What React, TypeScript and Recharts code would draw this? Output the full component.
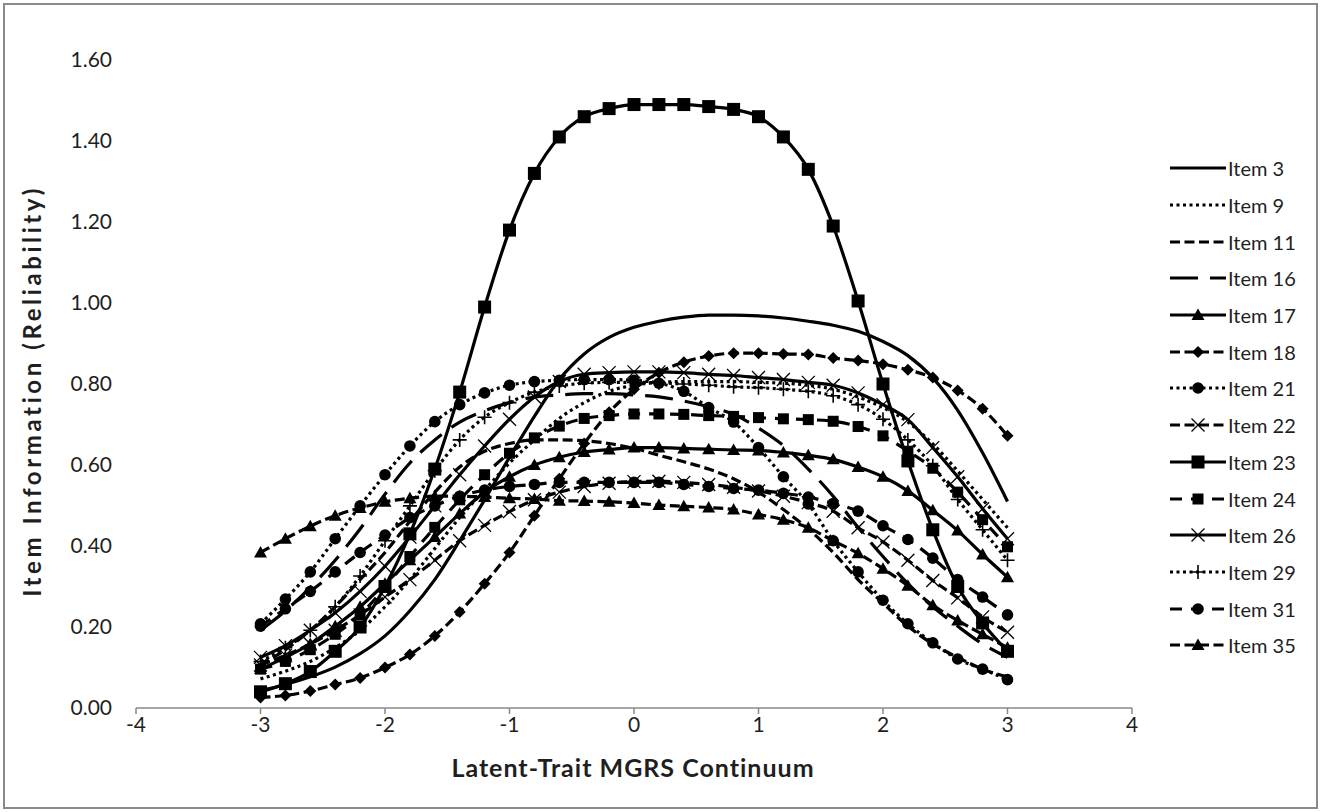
import React from 'react';
import { LineChart, Line, XAxis, YAxis, Legend, Label } from 'recharts';

const THETA = [-3, -2.8, -2.6, -2.4, -2.2, -2, -1.8, -1.6, -1.4, -1.2, -1, -0.8, -0.6, -0.4, -0.2, 0, 0.2, 0.4, 0.6, 0.8, 1, 1.2, 1.4, 1.6, 1.8, 2, 2.2, 2.4, 2.6, 2.8, 3];

const ITEM_3 = [0.043, 0.058, 0.077, 0.101, 0.134, 0.178, 0.24, 0.317, 0.413, 0.514, 0.619, 0.72, 0.811, 0.874, 0.915, 0.94, 0.955, 0.965, 0.97, 0.97, 0.968, 0.963, 0.955, 0.945, 0.93, 0.905, 0.87, 0.815, 0.735, 0.63, 0.51];
const ITEM_9 = [0.072, 0.091, 0.115, 0.149, 0.192, 0.25, 0.317, 0.394, 0.47, 0.538, 0.605, 0.662, 0.715, 0.754, 0.782, 0.797, 0.804, 0.806, 0.806, 0.806, 0.804, 0.802, 0.797, 0.787, 0.768, 0.742, 0.706, 0.652, 0.585, 0.515, 0.445];
const ITEM_11 = [0.106, 0.144, 0.192, 0.25, 0.317, 0.384, 0.461, 0.533, 0.595, 0.634, 0.653, 0.662, 0.662, 0.66, 0.653, 0.641, 0.624, 0.608, 0.59, 0.566, 0.533, 0.49, 0.442, 0.384, 0.317, 0.259, 0.202, 0.158, 0.125, 0.096, 0.077];
const ITEM_16 = [0.192, 0.24, 0.298, 0.365, 0.442, 0.528, 0.605, 0.662, 0.706, 0.734, 0.754, 0.768, 0.773, 0.776, 0.776, 0.773, 0.768, 0.758, 0.744, 0.725, 0.691, 0.648, 0.59, 0.523, 0.446, 0.374, 0.307, 0.25, 0.202, 0.158, 0.125];
const ITEM_17 = [0.096, 0.125, 0.158, 0.202, 0.25, 0.307, 0.365, 0.422, 0.48, 0.533, 0.571, 0.6, 0.619, 0.632, 0.638, 0.643, 0.643, 0.641, 0.639, 0.637, 0.636, 0.631, 0.624, 0.614, 0.595, 0.571, 0.536, 0.488, 0.438, 0.379, 0.323];
const ITEM_18 = [0.026, 0.031, 0.042, 0.058, 0.074, 0.1, 0.132, 0.178, 0.237, 0.307, 0.384, 0.475, 0.566, 0.653, 0.73, 0.787, 0.828, 0.854, 0.869, 0.876, 0.876, 0.874, 0.873, 0.864, 0.858, 0.849, 0.835, 0.816, 0.784, 0.739, 0.672];
const ITEM_21 = [0.208, 0.269, 0.336, 0.418, 0.499, 0.576, 0.647, 0.707, 0.749, 0.778, 0.797, 0.806, 0.809, 0.811, 0.811, 0.809, 0.802, 0.782, 0.742, 0.706, 0.643, 0.571, 0.504, 0.413, 0.336, 0.266, 0.208, 0.161, 0.121, 0.096, 0.07];
const ITEM_22 = [0.106, 0.13, 0.158, 0.192, 0.23, 0.274, 0.317, 0.365, 0.413, 0.451, 0.485, 0.514, 0.533, 0.547, 0.555, 0.559, 0.56, 0.557, 0.552, 0.545, 0.536, 0.523, 0.507, 0.486, 0.445, 0.41, 0.365, 0.315, 0.272, 0.225, 0.187];
const ITEM_23 = [0.04, 0.06, 0.09, 0.14, 0.2, 0.3, 0.43, 0.59, 0.78, 0.99, 1.18, 1.32, 1.41, 1.46, 1.48, 1.49, 1.49, 1.49, 1.485, 1.478, 1.46, 1.41, 1.33, 1.19, 1.005, 0.8, 0.61, 0.44, 0.3, 0.21, 0.14];
const ITEM_24 = [0.096, 0.115, 0.144, 0.182, 0.23, 0.298, 0.374, 0.446, 0.514, 0.576, 0.629, 0.667, 0.696, 0.715, 0.722, 0.726, 0.726, 0.725, 0.722, 0.72, 0.717, 0.714, 0.712, 0.708, 0.695, 0.672, 0.634, 0.592, 0.533, 0.465, 0.398];
const ITEM_26 = [0.125, 0.154, 0.192, 0.235, 0.288, 0.35, 0.422, 0.499, 0.576, 0.647, 0.713, 0.768, 0.806, 0.824, 0.828, 0.83, 0.83, 0.828, 0.824, 0.821, 0.816, 0.811, 0.804, 0.797, 0.778, 0.749, 0.712, 0.643, 0.571, 0.492, 0.418];
const ITEM_29 = [0.115, 0.149, 0.192, 0.25, 0.326, 0.413, 0.499, 0.586, 0.662, 0.718, 0.754, 0.78, 0.795, 0.802, 0.804, 0.804, 0.803, 0.8, 0.797, 0.793, 0.791, 0.787, 0.782, 0.771, 0.749, 0.713, 0.662, 0.598, 0.515, 0.44, 0.365];
const ITEM_31 = [0.202, 0.245, 0.288, 0.336, 0.384, 0.427, 0.47, 0.499, 0.523, 0.538, 0.547, 0.552, 0.557, 0.557, 0.557, 0.557, 0.557, 0.552, 0.547, 0.542, 0.538, 0.53, 0.521, 0.505, 0.486, 0.45, 0.416, 0.37, 0.317, 0.274, 0.23];
const ITEM_35 = [0.384, 0.418, 0.449, 0.475, 0.494, 0.509, 0.518, 0.523, 0.523, 0.521, 0.518, 0.516, 0.512, 0.511, 0.509, 0.506, 0.501, 0.498, 0.495, 0.49, 0.478, 0.465, 0.445, 0.413, 0.382, 0.344, 0.302, 0.254, 0.216, 0.182, 0.149];

const X_TICKS = [-4, -3, -2, -1, 0, 1, 2, 3, 4];
const Y_TICKS = [0, 0.2, 0.4, 0.6, 0.8, 1.0, 1.2, 1.4, 1.6];

const FONT = 'Lato, "Open Sans", sans-serif';
const INK = '#000';
const TEXT = '#1f1f1f';

type Marker = 'none' | 'square' | 'smallSquare' | 'triangle' | 'diamond' | 'circle' | 'cross' | 'plus';

interface SeriesDef {
  key: string;
  name: string;
  values: number[];
  dash?: string;
  marker: Marker;
}

const SERIES: SeriesDef[] = [
  { key: 'i3', name: 'Item 3', values: ITEM_3, marker: 'none' },
  { key: 'i9', name: 'Item 9', values: ITEM_9, dash: '3 3.5', marker: 'none' },
  { key: 'i11', name: 'Item 11', values: ITEM_11, dash: '10 4.5', marker: 'none' },
  { key: 'i16', name: 'Item 16', values: ITEM_16, dash: '28 12', marker: 'none' },
  { key: 'i17', name: 'Item 17', values: ITEM_17, marker: 'triangle' },
  { key: 'i18', name: 'Item 18', values: ITEM_18, dash: '10 4.5', marker: 'diamond' },
  { key: 'i21', name: 'Item 21', values: ITEM_21, dash: '3 3.5', marker: 'circle' },
  { key: 'i22', name: 'Item 22', values: ITEM_22, dash: '10 4.5', marker: 'cross' },
  { key: 'i23', name: 'Item 23', values: ITEM_23, marker: 'square' },
  { key: 'i24', name: 'Item 24', values: ITEM_24, dash: '12 9', marker: 'smallSquare' },
  { key: 'i26', name: 'Item 26', values: ITEM_26, marker: 'cross' },
  { key: 'i29', name: 'Item 29', values: ITEM_29, dash: '3 3.5', marker: 'plus' },
  { key: 'i31', name: 'Item 31', values: ITEM_31, dash: '12 9', marker: 'circle' },
  { key: 'i35', name: 'Item 35', values: ITEM_35, dash: '10 4.5', marker: 'triangle' },
];

const DATA = THETA.map((x, i) => {
  const row: Record<string, number> = { x };
  SERIES.forEach((s) => {
    row[s.key] = s.values[i];
  });
  return row;
});

function markerShape(kind: Marker, cx: number, cy: number, key?: string | number) {
  switch (kind) {
    case 'square':
      return <rect key={key} x={cx - 6.5} y={cy - 6.5} width={13} height={13} fill={INK} />;
    case 'smallSquare':
      return <rect key={key} x={cx - 5.5} y={cy - 5.5} width={11} height={11} fill={INK} />;
    case 'triangle':
      return <path key={key} d={`M${cx},${cy - 6.5} L${cx + 6.5},${cy + 5} L${cx - 6.5},${cy + 5} Z`} fill={INK} />;
    case 'diamond':
      return <path key={key} d={`M${cx},${cy - 6} L${cx + 6},${cy} L${cx},${cy + 6} L${cx - 6},${cy} Z`} fill={INK} />;
    case 'circle':
      return <circle key={key} cx={cx} cy={cy} r={5.8} fill={INK} />;
    case 'cross':
      return (
        <path key={key} d={`M${cx - 6.5},${cy - 6.5} L${cx + 6.5},${cy + 6.5} M${cx + 6.5},${cy - 6.5} L${cx - 6.5},${cy + 6.5}`} stroke={INK} strokeWidth={1.3} fill="none" />
      );
    case 'plus':
      return <path key={key} d={`M${cx - 7},${cy} L${cx + 7},${cy} M${cx},${cy - 7} L${cx},${cy + 7}`} stroke={INK} strokeWidth={1.6} fill="none" />;
    default:
      return null;
  }
}

function makeDot(kind: Marker) {
  if (kind === 'none') return false;
  return (props: any) => {
    const { cx, cy, index } = props;
    if (cx == null || cy == null) return <g key={`e${index}`} />;
    return markerShape(kind, cx, cy, `m${index}`) as any;
  };
}

const renderLegend = () => (
  <div style={{ width: 191, boxSizing: 'border-box', paddingLeft: 38, paddingTop: 0, fontFamily: FONT }}>
    {SERIES.map((s) => (
      <div key={s.key} style={{ height: 36.7, display: 'flex', alignItems: 'center' }}>
        <svg width={58} height={20} style={{ display: 'block' }}>
          <line x1={0} y1={10} x2={56} y2={10} stroke={INK} strokeWidth={3} strokeDasharray={s.dash} />
          {markerShape(s.marker, 28, 10)}
        </svg>
        <span style={{ fontSize: 20, color: TEXT, marginLeft: 0, lineHeight: '20px', whiteSpace: 'nowrap' }}>{s.name}</span>
      </div>
    ))}
  </div>
);

const YTitle = (props: any) => {
  const vb = props.viewBox || { x: 0, y: 60, width: 136, height: 648 };
  const cx = vb.x + 31;
  const cy = 391;
  return (
    <text x={cx} y={cy} transform={`rotate(-90 ${cx} ${cy})`} textAnchor="middle" dominantBaseline="central" fontFamily={FONT} fontWeight={700} fontSize={24} letterSpacing={3.6} fill={TEXT}>
      Item Information (Reliability)
    </text>
  );
};

const XTitle = (props: any) => {
  const vb = props.viewBox || { x: 136, y: 708, width: 996, height: 40 };
  const cx = vb.x + vb.width / 2 - 1;
  const cy = 767;
  return (
    <text x={cx} y={cy} textAnchor="middle" dominantBaseline="central" fontFamily={FONT} fontWeight={700} fontSize={25} letterSpacing={1} fill={TEXT}>
      Latent-Trait MGRS Continuum
    </text>
  );
};

export default function App() {
  return (
    <div style={{ position: 'absolute', left: 0, top: 0, width: 1323, height: 812, background: '#fff' }}>
      <div style={{ position: 'absolute', left: 3, top: 3, width: 1311, height: 802, border: '2px solid #8a8a8a' }} />
      <LineChart width={1323} height={812} data={DATA} margin={{ top: 60, right: 0, bottom: 0, left: 0 }}>
        <XAxis
          dataKey="x"
          type="number"
          domain={[-4, 4]}
          ticks={X_TICKS}
          interval={0}
          tickSize={6}
          tickMargin={3}
          axisLine={{ stroke: '#888', strokeWidth: 1.5 }}
          tickLine={{ stroke: '#888', strokeWidth: 1.5 }}
          tick={{ fill: TEXT, fontFamily: FONT, fontSize: 21 }}
          height={104}
        >
          <Label content={<XTitle />} />
        </XAxis>
        <YAxis
          type="number"
          domain={[0, 1.6]}
          ticks={Y_TICKS}
          interval={0}
          width={136}
          axisLine={false}
          tickLine={false}
          tickSize={20}
          tickMargin={4}
          tickFormatter={(v: number) => v.toFixed(2)}
          tick={{ fill: TEXT, fontFamily: FONT, fontSize: 21 }}
        >
          <Label content={<YTitle />} />
        </YAxis>
        <Legend layout="vertical" align="right" verticalAlign="top" content={renderLegend} wrapperStyle={{ top: 150 }} />
        {SERIES.map((s) => (
          <Line
            key={s.key}
            dataKey={s.key}
            name={s.name}
            type="monotone"
            stroke={INK}
            strokeWidth={3.2}
            strokeDasharray={s.dash}
            dot={makeDot(s.marker) as any}
            activeDot={false}
            isAnimationActive={false}
            legendType="none"
          />
        ))}
      </LineChart>
    </div>
  );
}
